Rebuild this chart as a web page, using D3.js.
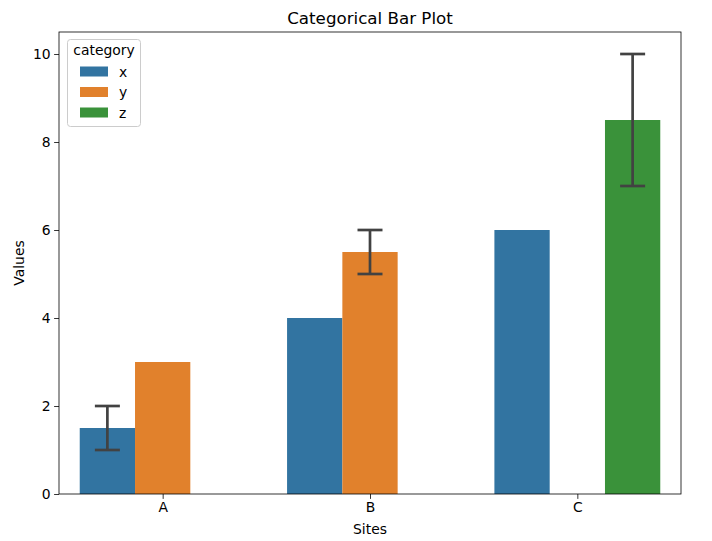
<!DOCTYPE html>
<html>
<head>
<meta charset="utf-8">
<script src="https://cdn.jsdelivr.net/npm/d3@7"></script>
<style>
body{margin:0;background:#fff;}
text{font-family:"DejaVu Sans",sans-serif;}
</style>
</head>
<body>
<svg id="chart" width="712" height="541"></svg>
<script>
const sites = ["A","B","C"];
const categories = ["x","y","z"];
const colors = ["#3274a1","#e1812c","#3a923a"];
// values per category per site (null = absent)
const valuesX = [1.5, 4, 6];
const valuesY = [3, 5.5, null];
const valuesZ = [null, null, 8.5];
// error bar extents (null = no error bar)
const errLowX = [1, null, null], errHighX = [2, null, null];
const errLowY = [null, 5, null], errHighY = [null, 6, null];
const errLowZ = [null, null, 7], errHighZ = [null, null, 10];
const yTicks = [0,2,4,6,8,10];

const series = [
  {cat:"x", vals:valuesX, lo:errLowX, hi:errHighX},
  {cat:"y", vals:valuesY, lo:errLowY, hi:errHighY},
  {cat:"z", vals:valuesZ, lo:errLowZ, hi:errHighZ}
];

const svg = d3.select("#chart");
const L=59, R=681, T=32, B=494;

const x = d3.scaleBand().domain(sites).range([L,R]).paddingInner(0.2).paddingOuter(0.1);
// band step 207.33, bandwidth 0.8 of step
const step = (R-L)/3;
x.paddingInner(0).paddingOuter(0);
const xc = s => x(s) + step/2;
const hue = d3.scaleBand().domain(categories).range([-0.4*step, 0.4*step]);
const y = d3.scaleLinear().domain([0,10.5]).range([B,T]);

const g = svg.append("g");
series.forEach((s,si)=>{
  sites.forEach((site,i)=>{
    const v = s.vals[i];
    if(v==null) return;
    g.append("rect")
      .attr("x", xc(site)+hue(s.cat))
      .attr("width", hue.bandwidth())
      .attr("y", y(v))
      .attr("height", y(0)-y(v))
      .attr("fill", colors[si]);
  });
});
// error bars
series.forEach((s)=>{
  sites.forEach((site,i)=>{
    if(s.lo[i]==null) return;
    const cx = xc(site)+hue(s.cat)+hue.bandwidth()/2;
    const cw = 12.5;
    const eg = g.append("g").attr("stroke","#424242").attr("stroke-width",2.7).attr("fill","none");
    eg.append("line").attr("x1",cx).attr("x2",cx).attr("y1",y(s.lo[i])).attr("y2",y(s.hi[i]));
    eg.append("line").attr("x1",cx-cw).attr("x2",cx+cw).attr("y1",y(s.lo[i])).attr("y2",y(s.lo[i]));
    eg.append("line").attr("x1",cx-cw).attr("x2",cx+cw).attr("y1",y(s.hi[i])).attr("y2",y(s.hi[i]));
  });
});

// axes
const xAxis = d3.axisBottom(d3.scalePoint().domain(sites).range([xc("A"),xc("C")])).tickSize(4.9).tickPadding(3.5);
const xg = svg.append("g").attr("transform",`translate(0,${B})`).call(xAxis);
xg.select(".domain").remove();
const yAxis = d3.axisLeft(y).tickValues(yTicks).tickFormat(d3.format("d")).tickSize(4.9).tickPadding(3.5);
const yg = svg.append("g").attr("transform",`translate(${L},0)`).call(yAxis);
yg.select(".domain").remove();
[xg,yg].forEach(a=>{
  a.selectAll("text").attr("font-size","13.9px").attr("fill","#000").style("font-family","DejaVu Sans");
  a.selectAll("line").attr("stroke","#000").attr("stroke-width",0.8);
});
svg.append("rect").attr("x",L).attr("y",T).attr("width",R-L).attr("height",B-T)
  .attr("fill","none").attr("stroke","#000").attr("stroke-width",0.8);

svg.append("text").attr("x",(L+R)/2).attr("y",24).attr("text-anchor","middle")
  .attr("font-size","16.7px").text("Categorical Bar Plot");
svg.append("text").attr("x",(L+R)/2).attr("y",534).attr("text-anchor","middle")
  .attr("font-size","13.9px").text("Sites");
svg.append("text").attr("transform",`translate(24,${(T+B)/2}) rotate(-90)`).attr("text-anchor","middle")
  .attr("font-size","13.9px").text("Values");

// legend
const lg = svg.append("g");
lg.append("rect").attr("x",67.5).attr("y",39.5).attr("width",73).attr("height",87).attr("rx",3)
  .attr("fill","#fff").attr("fill-opacity",0.8).attr("stroke","#cccccc").attr("stroke-width",1);
lg.append("text").attr("x",104).attr("y",55).attr("text-anchor","middle").attr("font-size","13.9px").text("category");
categories.forEach((c,i)=>{
  const yy = 71.5 + i*20.5;
  lg.append("rect").attr("x",80).attr("y",yy-5).attr("width",28).attr("height",10).attr("fill",colors[i]);
  lg.append("text").attr("x",119).attr("y",yy+5).attr("font-size","13.9px").text(c);
});
</script>
</body>
</html>
